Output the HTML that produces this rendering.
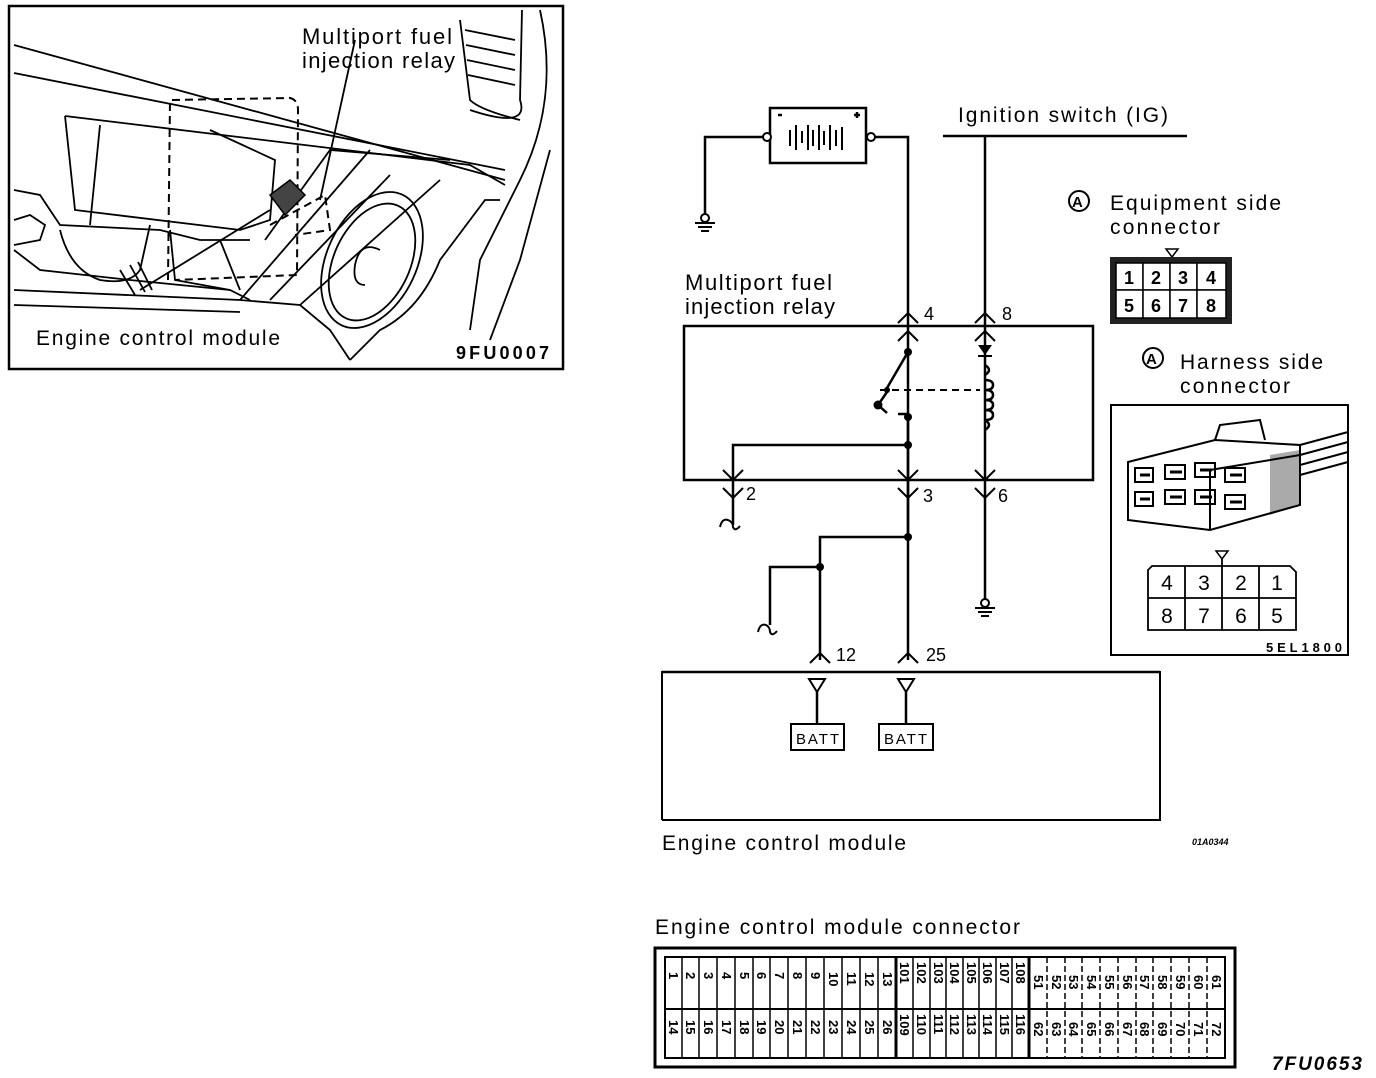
<!DOCTYPE html>
<html><head><meta charset="utf-8"><style>
html,body{margin:0;padding:0;background:#fff;}
svg{display:block;}
text{font-family:"Liberation Sans",sans-serif;fill:#000;}
</style></head><body>
<svg width="1376" height="1078" viewBox="0 0 1376 1078" xmlns="http://www.w3.org/2000/svg">
<!-- Top-left illustration -->
<rect x="9" y="6" width="554" height="363" fill="none" stroke="#000" stroke-width="2.5"/>
<g fill="none" stroke="#000" stroke-width="1.8">
<path d="M14 45 L505 180"/>
<path d="M14 73 L505 170"/>
<path d="M65 116 L470 165 L505 185"/>
<path d="M65 116 L75 210 L240 230 L270 220 L275 160 L210 130"/>
<path d="M100 125 L90 225"/>
<path d="M14 190 L40 195 L60 225 L160 230 L200 240 L250 240"/>
<path d="M14 250 L40 270 L130 280 L230 290 L250 300"/>
<path d="M14 290 L240 300 L300 305 L330 330 L350 360"/>
<path d="M14 305 L240 312"/>
<path d="M60 230 Q70 270 100 280 Q130 285 140 270 L150 225"/>
<path d="M170 230 L175 280 L230 290"/>
<path d="M220 240 L240 290"/>
<path d="M265 240 L330 150 L450 160"/>
<path d="M240 300 L370 150"/>
<path d="M270 300 L390 175"/>
<path d="M300 305 L440 180"/>
<path d="M350 360 L380 330 Q420 310 440 260 L485 200 L500 200"/>
<path d="M470 110 Q530 130 520 100 L522 10"/>
<path d="M540 10 Q560 100 520 180 L480 260 L470 330"/>
<path d="M550 150 L520 260 L490 340"/>
<path d="M460 20 L470 100 Q480 110 520 120"/>
<path d="M465 30 L515 40 M466 45 L515 55 M467 60 L515 70 M468 75 L515 85"/>
<path d="M14 220 L30 215 L45 225 L40 240 L14 245"/>
<path d="M120 270 L135 295 M130 265 L145 292 M138 262 L152 290"/>
<ellipse cx="372" cy="260" rx="45" ry="72" transform="rotate(25 372 260)"/>
<ellipse cx="372" cy="262" rx="38" ry="62" transform="rotate(25 372 262)"/>
<path d="M380 250 Q360 240 355 265 Q352 285 365 285"/>
<path d="M320 200 L355 40"/>
<path d="M140 290 L270 210"/>
</g>
<g fill="none" stroke="#000" stroke-width="2" stroke-dasharray="8,5">
<path d="M168 280 L170 100 L290 98 Q298 100 298 110 L297 275 L175 280"/>
<path d="M270 225 L325 195 L330 230 L295 235"/>
</g>
<path d="M270 195 L290 180 L305 195 L285 215 Z" fill="#444" stroke="#000" stroke-width="1.5"/>
<text x="302" y="44" font-size="22" textLength="150">Multiport fuel</text>
<text x="302" y="68" font-size="22" textLength="153">injection relay</text>
<text x="36" y="345" font-size="21" textLength="244">Engine control module</text>
<text x="456" y="359" font-size="18" font-weight="bold" textLength="93">9FU0007</text>

<!-- Circuit -->
<g fill="none" stroke="#000" stroke-width="2.5">
<rect x="770" y="108" width="96" height="55"/>
<path d="M764 137 L705 137 L705 215"/>
<path d="M874 137 L908 137 L908 660"/>
<path d="M943 136 L1187 136"/>
<path d="M985 136 L985 600"/>
<rect x="684" y="326" width="409" height="154"/>
<path d="M908 445 L733 445 L733 525"/>
<path d="M908 537 L820 537 L820 660"/>
<path d="M820 567 L770 567 L770 625"/>
<path d="M908 352 L887 388"/>
<path d="M887 392 L878 405 L887 413"/>
<path d="M898 414 L908 414 L908 445"/>
<path d="M908 445 L908 537"/>
</g>
<circle cx="767" cy="137" r="4" fill="#fff" stroke="#000" stroke-width="2"/>
<circle cx="871" cy="137" r="4" fill="#fff" stroke="#000" stroke-width="2"/>
<g stroke="#000" stroke-width="2">
<path d="M790 130 L790 146 M796 125 L796 150 M802 131 L802 143 M808 125 L808 150 M813 130 L813 146 M819 125 L819 150 M824 131 L824 145 M830 125 L830 150 M836 130 L836 146 M842 127 L842 150"/>
<path d="M778 115 L782 115 M854 115 L860 115 M857 112 L857 118" stroke-width="2.5"/>
</g>
<text x="958" y="122" font-size="21" textLength="210">Ignition switch (IG)</text>
<!-- grounds -->
<g fill="none" stroke="#000" stroke-width="2">
<circle cx="705" cy="218" r="4"/>
<path d="M695 223 L715 223 M698 227 L712 227 M701 231 L709 231"/>
<circle cx="985" cy="603" r="4"/>
<path d="M975 608 L995 608 M978 612 L992 612 M981 616 L989 616"/>
<path d="M720 527 Q722 518 728 520 Q733 522 733 527 Q735 532 740 526"/>
<path d="M758 632 Q760 623 766 625 Q770 627 770 632 Q772 637 777 631"/>
</g>
<!-- chevrons -->
<g fill="none" stroke="#000" stroke-width="2">
<path d="M898 323 L908 313 L918 323 M898 341 L908 331 L918 341"/>
<path d="M975 323 L985 313 L995 323 M975 341 L985 331 L995 341"/>
<path d="M723 470 L733 480 L743 470 M723 488 L733 498 L743 488"/>
<path d="M898 470 L908 480 L918 470 M898 488 L908 498 L918 488"/>
<path d="M975 470 L985 480 L995 470 M975 488 L985 498 L995 488"/>
<path d="M810 663 L820 653 L830 663 M898 663 L908 653 L918 663"/>
<path d="M880 390 L980 390" stroke-dasharray="7,5"/>
<path d="M985 380 q8 0 8 5 q0 5 -8 5 M985 390 q8 0 8 5 q0 5 -8 5 M985 400 q8 0 8 5 q0 5 -8 5 M985 410 q8 0 8 5 q0 5 -8 5 M985 365 q8 5 0 10 M985 420 q8 5 0 10" stroke-width="2.5"/>
</g>
<path d="M978 345 L992 345 L985 355 Z" fill="#000"/>
<path d="M978 356 L992 356" stroke="#000" stroke-width="2"/>
<g fill="#000">
<circle cx="908" cy="352" r="4"/><circle cx="887" cy="390" r="3"/><circle cx="878" cy="405" r="4.5"/>
<circle cx="908" cy="417" r="4"/><circle cx="908" cy="445" r="4"/><circle cx="908" cy="537" r="4"/><circle cx="820" cy="567" r="4"/>
</g>
<text x="924" y="320" font-size="18">4</text>
<text x="1002" y="320" font-size="18">8</text>
<text x="746" y="500" font-size="18">2</text>
<text x="923" y="502" font-size="18">3</text>
<text x="998" y="502" font-size="18">6</text>
<text x="836" y="661" font-size="18">12</text>
<text x="926" y="661" font-size="18">25</text>
<text x="685" y="290" font-size="22" textLength="147">Multiport fuel</text>
<text x="685" y="314" font-size="22" textLength="150">injection relay</text>
<!-- ECM -->
<path d="M662 820 L662 672 L1160 672 L1160 820 L662 820" fill="none" stroke="#000" stroke-width="2"/>
<path d="M662 672 L1160 672" stroke="#000" stroke-width="2.5"/>
<g fill="none" stroke="#000" stroke-width="2">
<path d="M809 679 L825 679 L817 692 Z M898 679 L914 679 L906 692 Z"/>
<path d="M817 692 L817 724 M906 692 L906 724" stroke-width="2.5"/>
<rect x="791" y="724" width="53" height="26"/>
<rect x="879" y="724" width="54" height="26"/>
</g>
<text x="796" y="744" font-size="15" textLength="43">BATT</text>
<text x="884" y="744" font-size="15" textLength="43">BATT</text>
<text x="662" y="850" font-size="21" textLength="244">Engine control module</text>
<text x="1192" y="845" font-size="9" font-style="italic" font-weight="bold">01A0344</text>

<!-- Equipment side -->
<circle cx="1079" cy="201" r="10" fill="none" stroke="#000" stroke-width="2"/>
<text x="1072" y="207" font-size="15" font-weight="bold">A</text>
<text x="1110" y="210" font-size="21" textLength="171">Equipment side</text>
<text x="1110" y="234" font-size="21" textLength="110">connector</text>
<path d="M1166 249 L1178 249 L1172 257 Z" fill="none" stroke="#000" stroke-width="1.5"/>
<rect x="1110" y="257" width="122" height="67" fill="#222"/>
<g fill="#fff" stroke="#000" stroke-width="1.5">
<rect x="1116" y="263" width="27" height="27"/><rect x="1143" y="263" width="27" height="27"/><rect x="1170" y="263" width="27" height="27"/><rect x="1197" y="263" width="29" height="27"/>
<rect x="1116" y="290" width="27" height="28"/><rect x="1143" y="290" width="27" height="28"/><rect x="1170" y="290" width="27" height="28"/><rect x="1197" y="290" width="29" height="28"/>
</g>
<g font-size="18" font-weight="bold" text-anchor="middle">
<text x="1129" y="284">1</text><text x="1156" y="284">2</text><text x="1183" y="284">3</text><text x="1211" y="284">4</text>
<text x="1129" y="312">5</text><text x="1156" y="312">6</text><text x="1183" y="312">7</text><text x="1211" y="312">8</text>
</g>
<!-- Harness side -->
<circle cx="1153" cy="358" r="10" fill="none" stroke="#000" stroke-width="2"/>
<text x="1146" y="364" font-size="15" font-weight="bold">A</text>
<text x="1180" y="369" font-size="21" textLength="143">Harness side</text>
<text x="1180" y="393" font-size="21" textLength="110">connector</text>
<rect x="1111" y="405" width="237" height="250" fill="none" stroke="#000" stroke-width="2"/>
<path d="M1270 455 L1300 450 L1300 505 L1270 515 Z" fill="#aaa"/>
<g fill="none" stroke="#000" stroke-width="2">
<path d="M1128 462 L1215 440 L1300 445 L1300 505 L1210 530 L1128 520 Z"/>
<path d="M1210 470 L1300 455 M1210 470 L1210 530"/>
<path d="M1215 440 L1220 425 L1260 420 L1265 440"/>
<path d="M1300 445 L1348 432 M1300 455 L1348 442 M1300 465 L1348 452 M1300 475 L1348 462"/>
<path d="M1135 468 l18 0 l0 14 l-18 0 z M1165 465 l20 0 l0 14 l-20 0 z M1195 463 l20 0 l0 14 l-20 0 z M1225 468 l20 0 l0 14 l-20 0 z"/>
<path d="M1135 492 l18 0 l0 14 l-18 0 z M1165 490 l20 0 l0 14 l-20 0 z M1195 490 l20 0 l0 14 l-20 0 z M1225 495 l20 0 l0 14 l-20 0 z"/>
<path d="M1140 475 l10 0 M1170 472 l12 0 M1200 470 l12 0 M1230 475 l12 0 M1140 499 l10 0 M1170 497 l12 0 M1200 497 l12 0 M1230 502 l12 0" stroke-width="3"/>
</g>
<path d="M1216 551 L1228 551 L1222 559 Z" fill="none" stroke="#000" stroke-width="1.5"/>
<g fill="none" stroke="#000" stroke-width="1.8">
<path d="M1148 570 L1152 566 L1290 566 L1296 572 L1296 630 L1148 630 Z"/>
<path d="M1148 598 L1296 598 M1185 566 L1185 630 M1222 559 L1222 630 M1259 566 L1259 630"/>
</g>
<g font-size="21" text-anchor="middle">
<text x="1167" y="590">4</text><text x="1204" y="590">3</text><text x="1241" y="590">2</text><text x="1277" y="590">1</text>
<text x="1167" y="623">8</text><text x="1204" y="623">7</text><text x="1241" y="623">6</text><text x="1277" y="623">5</text>
</g>
<text x="1266" y="652" font-size="13" font-weight="bold" textLength="76">5EL1800</text>

<!-- ECM connector -->
<text x="655" y="934" font-size="21" textLength="365">Engine control module connector</text>
<rect x="655" y="948" width="580" height="119" fill="none" stroke="#000" stroke-width="3"/>
<rect x="665" y="957" width="560" height="101" fill="none" stroke="#000" stroke-width="2"/>
<path d="M665 1009 L1225 1009" stroke="#000" stroke-width="2"/>
<g stroke="#000" stroke-width="1.5">
<path d="M682 957V1058M699 957V1058M717 957V1058M735 957V1058M753 957V1058M770 957V1058M788 957V1058M806 957V1058M824 957V1058M842 957V1058M860 957V1058M878 957V1058"/>
<path d="M896 957V1058M1029 957V1058" stroke-width="3"/>
<path d="M913 957V1058M930 957V1058M946 957V1058M963 957V1058M979 957V1058M996 957V1058M1012 957V1058"/>
<path d="M1047 957V1058M1065 957V1058M1082 957V1058M1100 957V1058M1118 957V1058M1136 957V1058M1153 957V1058M1171 957V1058M1189 957V1058M1207 957V1058" stroke-dasharray="6,3"/>
</g>
<g font-size="13" font-weight="bold">
<text transform="translate(669,972) rotate(90)">1</text><text transform="translate(686,972) rotate(90)">2</text><text transform="translate(704,972) rotate(90)">3</text><text transform="translate(722,972) rotate(90)">4</text><text transform="translate(740,972) rotate(90)">5</text><text transform="translate(757,972) rotate(90)">6</text><text transform="translate(775,972) rotate(90)">7</text><text transform="translate(793,972) rotate(90)">8</text><text transform="translate(811,972) rotate(90)">9</text><text transform="translate(829,972) rotate(90)">10</text><text transform="translate(847,972) rotate(90)">11</text><text transform="translate(865,972) rotate(90)">12</text><text transform="translate(883,972) rotate(90)">13</text>
<text transform="translate(900,962) rotate(90)">101</text><text transform="translate(917,962) rotate(90)">102</text><text transform="translate(934,962) rotate(90)">103</text><text transform="translate(950,962) rotate(90)">104</text><text transform="translate(967,962) rotate(90)">105</text><text transform="translate(983,962) rotate(90)">106</text><text transform="translate(1000,962) rotate(90)">107</text><text transform="translate(1016,962) rotate(90)">108</text>
<text transform="translate(1034,975) rotate(90)">51</text><text transform="translate(1052,975) rotate(90)">52</text><text transform="translate(1069,975) rotate(90)">53</text><text transform="translate(1087,975) rotate(90)">54</text><text transform="translate(1105,975) rotate(90)">55</text><text transform="translate(1123,975) rotate(90)">56</text><text transform="translate(1140,975) rotate(90)">57</text><text transform="translate(1158,975) rotate(90)">58</text><text transform="translate(1176,975) rotate(90)">59</text><text transform="translate(1194,975) rotate(90)">60</text><text transform="translate(1212,975) rotate(90)">61</text>
<text transform="translate(669,1020) rotate(90)">14</text><text transform="translate(686,1020) rotate(90)">15</text><text transform="translate(704,1020) rotate(90)">16</text><text transform="translate(722,1020) rotate(90)">17</text><text transform="translate(740,1020) rotate(90)">18</text><text transform="translate(757,1020) rotate(90)">19</text><text transform="translate(775,1020) rotate(90)">20</text><text transform="translate(793,1020) rotate(90)">21</text><text transform="translate(811,1020) rotate(90)">22</text><text transform="translate(829,1020) rotate(90)">23</text><text transform="translate(847,1020) rotate(90)">24</text><text transform="translate(865,1020) rotate(90)">25</text><text transform="translate(883,1020) rotate(90)">26</text>
<text transform="translate(900,1014) rotate(90)">109</text><text transform="translate(917,1014) rotate(90)">110</text><text transform="translate(934,1014) rotate(90)">111</text><text transform="translate(950,1014) rotate(90)">112</text><text transform="translate(967,1014) rotate(90)">113</text><text transform="translate(983,1014) rotate(90)">114</text><text transform="translate(1000,1014) rotate(90)">115</text><text transform="translate(1016,1014) rotate(90)">116</text>
<text transform="translate(1034,1022) rotate(90)">62</text><text transform="translate(1052,1022) rotate(90)">63</text><text transform="translate(1069,1022) rotate(90)">64</text><text transform="translate(1087,1022) rotate(90)">65</text><text transform="translate(1105,1022) rotate(90)">66</text><text transform="translate(1123,1022) rotate(90)">67</text><text transform="translate(1140,1022) rotate(90)">68</text><text transform="translate(1158,1022) rotate(90)">69</text><text transform="translate(1176,1022) rotate(90)">70</text><text transform="translate(1194,1022) rotate(90)">71</text><text transform="translate(1212,1022) rotate(90)">72</text>
</g>
<text x="1272" y="1070" font-size="19" font-weight="bold" font-style="italic" textLength="90">7FU0653</text>
</svg>
</body></html>
